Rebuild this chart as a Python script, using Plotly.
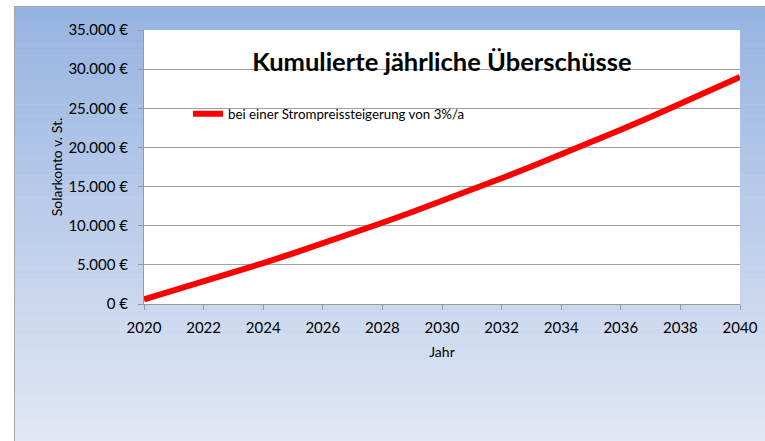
import plotly.graph_objects as go

years = list(range(2020, 2041))
saldo = [600, 1710, 2850, 4020, 5220, 6460, 7730, 9040, 10380, 11750, 13150,
         14590, 16060, 17560, 19090, 20660, 22260, 23900, 25570, 27270, 29000]
series_name = "bei einer Strompreissteigerung von 3%/a"
title_text = "Kumulierte jährliche Überschüsse"
x_title = "Jahr"
y_title = "Solarkonto v. St."
x_ticks = list(range(2020, 2041, 2))
y_ticks = list(range(0, 35001, 5000))
y_ticktext = [f"{v:,}".replace(",", ".") + " €" for v in y_ticks]

W, H = 765, 441
L, R, T, B = 144, 25, 30, 137
pw, ph = W - L - R, H - T - B

def px2x(px):
    return (px - L) / pw

def py2y(py):
    return (H - B - py) / ph

font = "Lato, 'Open Sans', sans-serif"

fig = go.Figure()
fig.add_trace(go.Scatter(x=years, y=saldo, mode="lines", name=series_name,
                         line=dict(color="#FF0000", width=6), showlegend=True))

# gradient background made of horizontal strips
shapes = []
top_c = (0x96, 0xB3, 0xE1)
bot_c = (0xE2, 0xE8, 0xF5)
y0px, y1px = 6, H + 2
n = 80
for i in range(n):
    a = y0px + (y1px - y0px) * i / n
    b = y0px + (y1px - y0px) * (i + 1) / n
    t = (i + 0.5) / n
    c = tuple(round(top_c[k] + (bot_c[k] - top_c[k]) * t) for k in range(3))
    shapes.append(dict(type="rect", xref="paper", yref="paper", layer="below",
                       x0=px2x(14), x1=px2x(W + 5), y0=py2y(a), y1=py2y(b + 0.5),
                       line=dict(width=0), fillcolor="rgb(%d,%d,%d)" % c))
# white plot area
shapes.append(dict(type="rect", xref="paper", yref="paper", layer="below",
                   x0=0, x1=1, y0=0, y1=1, line=dict(width=0), fillcolor="white"))
# outer frame
shapes.append(dict(type="rect", xref="paper", yref="paper", layer="below",
                   x0=px2x(14.5), x1=px2x(W + 5), y0=py2y(H + 5), y1=py2y(6.5),
                   line=dict(width=1, color="#A6A6A6"), fillcolor="rgba(0,0,0,0)"))

fig.update_layout(
    width=W, height=H, autosize=False,
    margin=dict(l=L, r=R, t=T, b=B, autoexpand=False),
    paper_bgcolor="white", plot_bgcolor="white",
    shapes=shapes,
    font=dict(family=font, color="#000000", size=13),
    title=dict(text="<b>" + title_text + "</b>", x=0.5, xref="paper",
               y=1 - 62 / H, yanchor="middle", xanchor="center",
               font=dict(family=font, size=25.5, color="#000000")),
    legend=dict(x=px2x(188), y=py2y(114), xanchor="left", yanchor="middle",
                bgcolor="rgba(0,0,0,0)", borderwidth=0,
                font=dict(family=font, size=13.3, color="#000000")),
    xaxis=dict(range=[2020, 2040], tickvals=x_ticks, ticks="outside", ticklen=5,
               tickcolor="#9A9A9A", showline=True, linecolor="#9A9A9A", linewidth=1,
               showgrid=False, zeroline=False, ticklabelstandoff=5, automargin=False,
               tickfont=dict(family=font, size=15),
               title=dict(text=x_title, font=dict(family=font, size=14), standoff=12)),
    yaxis=dict(range=[0, 35000], tickvals=y_ticks, ticktext=y_ticktext,
               ticks="outside", ticklen=5, tickcolor="#9A9A9A", showline=True,
               linecolor="#9A9A9A", linewidth=1, showgrid=True, gridcolor="#A0A0A0",
               gridwidth=1, zeroline=False, ticklabelstandoff=7, automargin=False,
               tickfont=dict(family=font, size=15),
               title=dict(text=y_title, font=dict(family=font, size=14), standoff=2)),
)

fig.write_html("out.html")
